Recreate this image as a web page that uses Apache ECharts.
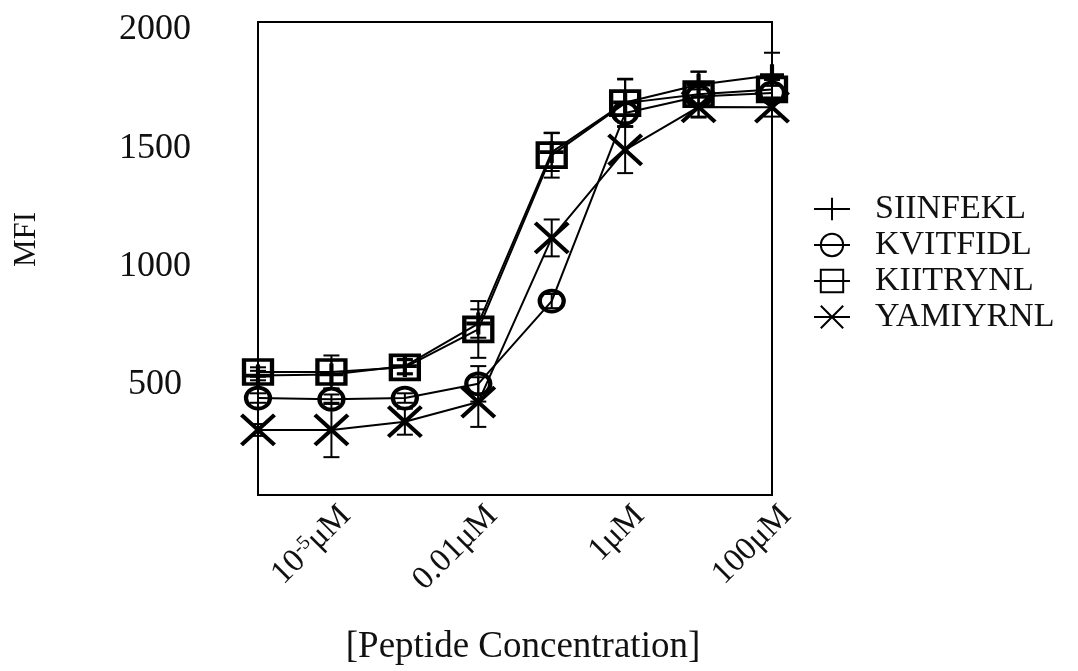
<!DOCTYPE html>
<html>
<head>
<meta charset="utf-8">
<script src="https://cdn.jsdelivr.net/npm/echarts@6/dist/echarts.min.js"></script>
<style>
  html, body { margin: 0; padding: 0; background: #fff; }
  #chart { width: 1078px; height: 671px; }
</style>
</head>
<body>
<div id="chart"></div>
<script>
// Ten-fold peptide dilution steps (low to high)
const doseSteps = ['s1', 's2', 's3', 's4', 's5', 's6', 's7', 's8'];
// Labels printed under every other dilution step
const tickLabels = ['', '10{sup|-5}μM', '', '0.01μM', '', '1μM', '', '100μM'];

const seriesNames = ['SIINFEKL', 'KVITFIDL', 'KIITRYNL', 'YAMIYRNL'];

// Mean fluorescence intensity per dilution step, with error (±)
const siinfekl    = [505, 510, 545, 725, 1450, 1660, 1735, 1775];
const siinfeklErr = [20, 60, 30, 60, 80, 100, 55, 95];
const kvitfidl    = [410, 405, 410, 470, 820, 1615, 1685, 1700];
const kvitfidlErr = [20, 20, 20, 75, 30, 40, 30, 30];
const kiitrynl    = [520, 520, 540, 700, 1437, 1657, 1695, 1715];
const kiitrynlErr = [20, 70, 30, 120, 95, 100, 95, 40];
const yamiyrnl    = [275, 275, 310, 393, 1087, 1459, 1641, 1640];
const yamiyrnlErr = [25, 115, 55, 105, 78, 98, 45, 40];

const FONT = '"Liberation Serif", "DejaVu Serif", serif';
const INK = '#111';

const symbols = {
  SIINFEKL: 'path://M0,10L20,10M10,0L10,20',
  KVITFIDL: 'circle',
  KIITRYNL: 'rect',
  YAMIYRNL: 'path://M0,0L20,20M20,0L0,20'
};
const symbolSizes = {
  SIINFEKL: [24, 22],
  KVITFIDL: [24, 21],
  KIITRYNL: [28, 24],
  YAMIYRNL: [33, 30]
};

const values = [siinfekl, kvitfidl, kiitrynl, yamiyrnl];
const errors = [siinfeklErr, kvitfidlErr, kiitrynlErr, yamiyrnlErr];

function errorBarItem(params, api) {
  const x = api.value(0), v = api.value(1), e = api.value(2);
  const hi = api.coord([x, v + e]);
  const lo = api.coord([x, v - e]);
  const cap = 8;
  const style = { stroke: '#000', lineWidth: 2, fill: null };
  return {
    type: 'group',
    children: [
      { type: 'line', shape: { x1: hi[0], y1: hi[1], x2: lo[0], y2: lo[1] }, style },
      { type: 'line', shape: { x1: hi[0] - cap, y1: hi[1], x2: hi[0] + cap, y2: hi[1] }, style },
      { type: 'line', shape: { x1: lo[0] - cap, y1: lo[1], x2: lo[0] + cap, y2: lo[1] }, style }
    ]
  };
}

const series = [];
seriesNames.forEach((name, k) => {
  series.push({
    name: name + ' error',
    type: 'custom',
    renderItem: errorBarItem,
    data: values[k].map((v, i) => [i, v, errors[k][i]]),
    z: 3,
    silent: true
  });
});
seriesNames.forEach((name, k) => {
  series.push({
    name: name,
    type: 'line',
    data: values[k],
    symbol: symbols[name],
    symbolSize: symbolSizes[name],
    showAllSymbol: true,
    lineStyle: { color: '#000', width: 2 },
    itemStyle: { color: 'rgba(0,0,0,0)', borderColor: '#000', borderWidth: 4 },
    z: 4,
    animation: false
  });
});

const chart = echarts.init(document.getElementById('chart'), null, { renderer: 'canvas' });
chart.setOption({
  animation: false,
  backgroundColor: '#fff',
  textStyle: { fontFamily: FONT, color: INK },
  grid: {
    left: 258, right: 306, top: 22, bottom: 176,
    show: true, borderColor: '#000', borderWidth: 2, backgroundColor: 'rgba(0,0,0,0)'
  },
  legend: {
    orient: 'vertical',
    left: 808, top: 187,
    data: seriesNames,
    itemWidth: 36, itemHeight: 28,
    itemGap: 2,
    textStyle: {
      fontFamily: FONT, fontSize: 34, color: INK,
      lineHeight: 28, padding: [0, 0, 0, 20]
    }
  },
  xAxis: {
    type: 'category',
    data: doseSteps,
    boundaryGap: false,
    axisLine: { show: false },
    axisTick: { show: false },
    splitLine: { show: false },
    name: '[Peptide Concentration]',
    nameLocation: 'middle',
    nameGap: 134,
    nameTextStyle: { fontFamily: FONT, fontSize: 37, color: INK, padding: [0, 0, 0, 16] },
    axisLabel: {
      interval: 0,
      rotate: 45,
      margin: 30,
      fontFamily: FONT,
      fontSize: 33,
      color: INK,
      padding: [0, -20, 0, 0],
      formatter: (v, i) => tickLabels[i],
      rich: {
        sup: { fontFamily: FONT, fontSize: 20, color: INK, verticalAlign: 'top', padding: [0, 0, 12, 0] }
      }
    }
  },
  yAxis: {
    type: 'value',
    min: 0, max: 2000, interval: 500,
    axisLine: { show: false },
    axisTick: { show: false },
    splitLine: { show: false },
    name: 'MFI',
    nameLocation: 'middle',
    nameGap: 216,
    nameTextStyle: { fontFamily: FONT, fontSize: 31, color: INK, padding: [0, 0, 0, 38] },
    axisLabel: {
      showMinLabel: false,
      align: 'center',
      verticalAlign: 'top',
      lineHeight: 16,
      margin: 103,
      fontFamily: FONT,
      fontSize: 36,
      color: INK,
      formatter: (v) => String(v)
    }
  },
  series: series
});
</script>
</body>
</html>
